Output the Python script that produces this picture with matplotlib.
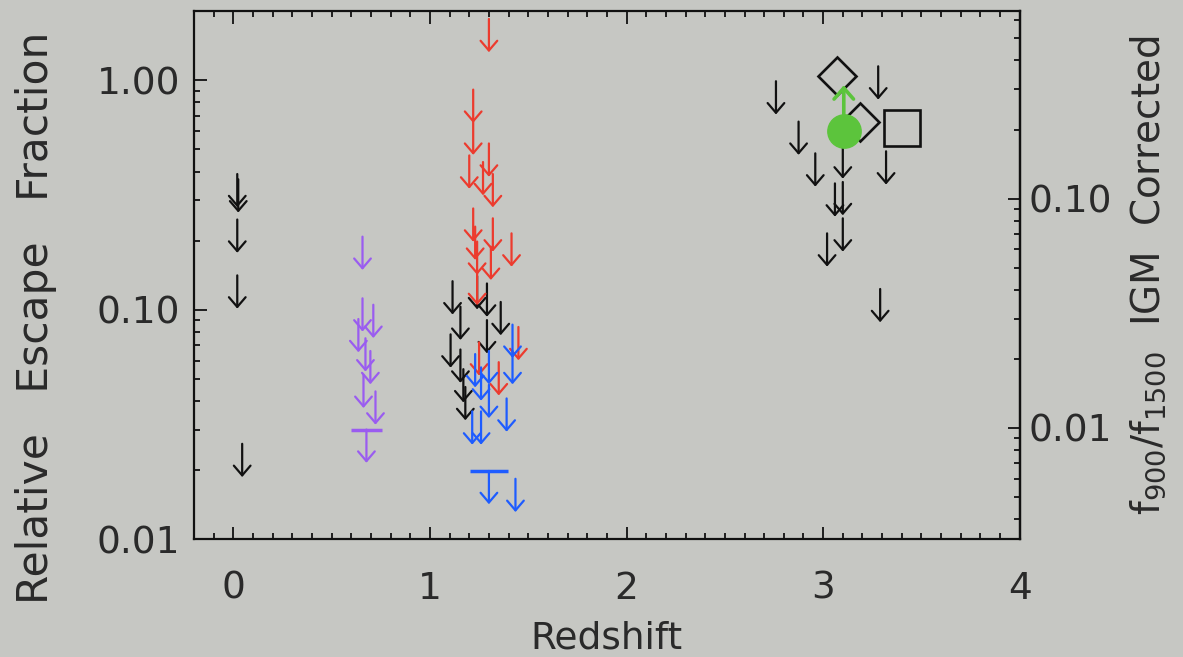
import numpy as np
import matplotlib
matplotlib.use('Agg')
import matplotlib.pyplot as plt
from matplotlib.ticker import MultipleLocator, FixedLocator, FixedFormatter

# upper limits (value = top of the arrow)
black_z = [0.02, 0.025, 0.02, 0.02, 0.045,
           1.115, 1.24, 1.29, 1.155, 1.36, 1.105, 1.29, 1.155, 1.17, 1.18,
           2.76, 3.28, 2.875, 2.96, 3.32, 3.10, 3.10, 3.10, 3.06, 3.02, 3.29]
black_f = [0.39, 0.37, 0.247, 0.141, 0.026,
           0.133, 0.14, 0.13, 0.103, 0.108, 0.078, 0.090, 0.067, 0.055, 0.046,
           0.99, 1.15, 0.66, 0.48, 0.49, 0.52, 0.36, 0.25, 0.355, 0.215, 0.123]

purple_z = [0.657, 0.657, 0.712, 0.636, 0.672, 0.697, 0.662, 0.723]
purple_f = [0.208, 0.112, 0.105, 0.091, 0.075, 0.066, 0.052, 0.044]
purple_bar_z = [0.677]
purple_bar_f = [0.030]

red_z = [1.30, 1.22, 1.22, 1.20, 1.30, 1.27, 1.32, 1.22, 1.23, 1.24, 1.24,
         1.32, 1.31, 1.415, 1.45, 1.25, 1.35]
red_f = [1.85, 0.91, 0.66, 0.47, 0.53, 0.44, 0.39, 0.276, 0.23, 0.198, 0.146,
         0.25, 0.188, 0.215, 0.084, 0.072, 0.059]

blue_z = [1.42, 1.42, 1.23, 1.26, 1.30, 1.30, 1.39, 1.215, 1.26, 1.435]
blue_f = [0.086, 0.066, 0.064, 0.056, 0.066, 0.047, 0.041, 0.036, 0.036, 0.0183]
blue_bar_z = [1.30]
blue_bar_f = [0.0198]

# detections
diamond_z = [3.07, 3.19]
diamond_f = [1.04, 0.66]
square_z = [3.40]
square_f = [0.617]
green_z = [3.105]
green_f = [0.60]

bg = '#c6c7c3'
txt = '#2a2a2a'
plt.rcParams['font.family'] = ['DejaVu Sans']
plt.rcParams['font.size'] = 27

fig = plt.figure(figsize=(11.83, 6.57), dpi=100, facecolor=bg)
ax = fig.add_axes([0.164, 0.1796, 0.698, 0.8034])
ax.set_facecolor(bg)
ax.set_yscale('log')
ax.set_xlim(-0.2, 4.0)
ax.set_ylim(0.01, 2.0)

down = 10 ** -0.145   # arrow length factor


def limits(zs, fs, color, fac=down, lw=1.6, hl=0.35, hw=0.3):
    for z, f in zip(zs, fs):
        ax.annotate('', xy=(z, f * fac), xytext=(z, f),
                    arrowprops=dict(arrowstyle=f'->,head_length={hl},head_width={hw}',
                                    color=color, lw=lw, mutation_scale=20,
                                    shrinkA=0, shrinkB=0))


limits(black_z[:15], black_f[:15], '#111111')
limits(purple_z, purple_f, '#9a5cf0')
ax.errorbar(purple_bar_z, purple_bar_f, xerr=0.08, fmt='none', ecolor='#9a5cf0',
            elinewidth=2.5, capsize=0)
limits(purple_bar_z, purple_bar_f, '#9a5cf0')
limits(red_z, red_f, '#ec3b2e')
limits(blue_z, blue_f, '#1e5cff')
ax.errorbar(blue_bar_z, blue_bar_f, xerr=0.097, fmt='none', ecolor='#1e5cff',
            elinewidth=2.5, capsize=0)
limits(blue_bar_z, blue_bar_f, '#1e5cff')
limits(black_z[15:], black_f[15:], '#111111')

ax.plot(diamond_z, diamond_f, 'D', ms=19.5, mfc='none', mec='#111111', mew=1.9)
ax.plot(square_z, square_f, 's', ms=26, mfc='none', mec='#111111', mew=1.9)
limits(green_z, green_f, '#5cc43c', fac=10 ** 0.2, lw=2.6, hl=0.4, hw=0.35)
ax.plot(green_z, green_f, 'o', ms=24, color='#5cc43c', zorder=5)

# axes styling (inward ticks, IDL look)
for s in ax.spines.values():
    s.set_linewidth(1.6)
    s.set_color('#111111')
ax.xaxis.set_major_locator(MultipleLocator(1))
ax.xaxis.set_minor_locator(MultipleLocator(0.1))
ax.yaxis.set_major_locator(FixedLocator([0.01, 0.1, 1.0]))
ax.yaxis.set_major_formatter(FixedFormatter(['0.01', '0.10', '1.00']))
ax.tick_params(which='both', direction='in', top=True, right=False,
               colors='#111111', labelcolor=txt, width=1.3)
ax.tick_params(which='major', length=9)
ax.tick_params(which='minor', length=4.5)
ax.tick_params(axis='x', which='major', pad=23)
ax.tick_params(axis='y', which='major', pad=10)

k = 0.328
sec = ax.secondary_yaxis('right', functions=(lambda y: y * k, lambda y: y / k))
sec.yaxis.set_major_locator(FixedLocator([0.01, 0.1]))
sec.yaxis.set_major_formatter(FixedFormatter(['0.01', '0.10']))
sec.tick_params(which='both', direction='in', colors='#111111', labelcolor=txt, width=1.3)
sec.tick_params(which='major', length=9, pad=6)
sec.tick_params(which='minor', length=4.5)
sec.spines['right'].set_linewidth(1.6)

ax.set_xlabel('Redshift', color=txt, labelpad=10)
ax.set_ylabel('Relative   Escape   Fraction', color=txt, fontsize=30.5)
ax.yaxis.set_label_coords(-0.166, 0.42)
sec.set_ylabel(r'f$_{900}$/f$_{1500}$  IGM  Corrected', color=txt, fontsize=28,
               labelpad=12)

fig.savefig('out.png', dpi=100, facecolor=bg)
